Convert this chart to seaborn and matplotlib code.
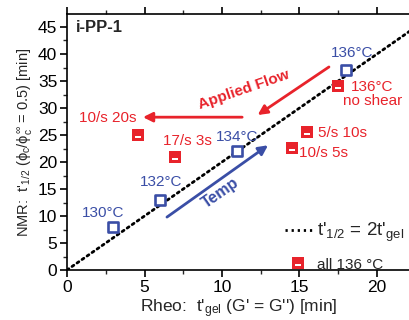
import matplotlib
matplotlib.use("Agg")
import matplotlib.pyplot as plt
import seaborn as sns
import pandas as pd
from matplotlib.lines import Line2D
from matplotlib.path import Path
from matplotlib.ticker import MultipleLocator

# ---- data ----
temp_x = [3, 6, 11, 18]
temp_y = [8, 13, 22, 37]
temp_labels = ["130°C", "132°C", "134°C", "136°C"]

shear_x = [17.5, 15.5, 14.5, 4.6, 7.0]
shear_y = [34, 25.5, 22.6, 25, 21]
shear_labels = ["136°C\nno shear", "5/s 10s", "10/s 5s", "10/s 20s", "17/s 3s"]

fit_x = [0, 24]
fit_y = [0, 48]

BLUE = "#3a4ea6"
RED = "#e8232b"

# filled square with a small white bar (hole) just below its centre
_outer = [(-1, -1), (1, -1), (1, 1), (-1, 1), (-1, -1)]
_inner = [(-0.5, -0.5), (-0.5, -0.12), (0.5, -0.12), (0.5, -0.5), (-0.5, -0.5)]
_codes = [Path.MOVETO] + [Path.LINETO] * 3 + [Path.CLOSEPOLY]
SQ_BAR = Path(_outer + _inner, _codes + _codes)

sns.set_theme(style="ticks")
plt.rcParams["font.family"] = ["Liberation Sans", "DejaVu Sans"]
plt.rcParams["mathtext.fontset"] = "custom"
plt.rcParams["mathtext.rm"] = "Liberation Sans"
plt.rcParams["mathtext.it"] = "Liberation Sans"

fig = plt.figure(figsize=(4.1, 3.2), dpi=100)
ax = fig.add_axes([67/410, 1-270/320, 1-67/410, (270-14)/320])

df_t = pd.DataFrame({"x": temp_x, "y": temp_y})
df_s = pd.DataFrame({"x": shear_x, "y": shear_y})
df_f = pd.DataFrame({"x": fit_x, "y": fit_y})

DOT = (0, (0.8, 1.4))
sns.lineplot(data=df_f, x="x", y="y", ax=ax, color="black", lw=2.0,
             linestyle=DOT, dash_capstyle="round", zorder=2)
sns.scatterplot(data=df_t, x="x", y="y", ax=ax, marker="s", s=42,
                facecolor="white", edgecolor=BLUE, linewidth=1.9, zorder=4)
sns.scatterplot(data=df_s, x="x", y="y", ax=ax, marker=SQ_BAR, s=70,
                color=RED, linewidth=0, zorder=4)

ax.set_xlim(0, (410-67)/15.5)
ax.set_ylim(0, (270-14)/5.4)

fs = 11
# temperature labels
temp_pos = [(2.3, 10.6), (6.1, 16.3), (11.0, 24.7), (18.4, 40.2)]
for (tx, ty), lab in zip(temp_pos, temp_labels):
    ax.text(tx, ty, lab, color=BLUE, fontsize=fs, ha="center", va="center")

# shear labels
shear_pos = [(19.7, 32.6, "center"), (16.2, 25.4, "left"), (15.0, 21.6, "left"),
             (2.6, 28.1, "center"), (7.75, 23.9, "center")]
for (sx, sy, ha), lab in zip(shear_pos, shear_labels):
    ax.text(sx, sy, lab, color=RED, fontsize=fs, ha=ha, va="center",
            linespacing=1.0)

ax.text(0.6, 45, "i-PP-1", fontsize=12, fontweight="bold", ha="left", va="center")

# arrows
ap_red = dict(arrowstyle="-|>", color=RED, lw=2.0, mutation_scale=14,
              shrinkA=0, shrinkB=0)
ax.annotate("", xy=(4.9, 28.3), xytext=(11.3, 28.3), arrowprops=ap_red)
ax.annotate("", xy=(12.3, 28.7), xytext=(16.9, 37.6), arrowprops=ap_red)
ax.text(11.4, 33.3, "Applied Flow", color=RED, fontsize=11, fontweight="bold",
        rotation=19, ha="center", va="center")

ap_blue = dict(arrowstyle="-|>", color=BLUE, lw=2.0, mutation_scale=14,
               shrinkA=0, shrinkB=0)
ax.annotate("", xy=(12.97, 23.1), xytext=(6.45, 9.8), arrowprops=ap_blue)
ax.text(9.9, 14.3, "Temp", color=BLUE, fontsize=11.5, fontweight="bold",
        rotation=35, ha="center", va="center")

# ticks
ax.xaxis.set_major_locator(MultipleLocator(5))
ax.xaxis.set_minor_locator(MultipleLocator(2.5))
ax.yaxis.set_major_locator(MultipleLocator(5))
ax.yaxis.set_minor_locator(MultipleLocator(2.5))
ax.tick_params(axis="both", which="major", labelsize=12.5, length=5, width=1.2,
               direction="out", pad=2, colors="black")
ax.tick_params(axis="both", which="minor", length=3, width=1.0, direction="out")
ax.tick_params(axis="x", which="both", top=True, labeltop=False)
ax.spines["right"].set_visible(False)
for sp in ["left", "bottom", "top"]:
    ax.spines[sp].set_linewidth(1.2)
    ax.spines[sp].set_color("black")

ax.set_xlabel("Rheo:  t'$_{gel}$ (G' = G'') [min]", fontsize=12.5, labelpad=2)
ax.set_ylabel("NMR:  t'$_{1/2}$ ($\\phi_c/\\phi_c^{\\infty}$ = 0.5) [min]",
              fontsize=10.5, labelpad=3)

# legend
h_line = Line2D([], [], color="black", lw=2.0, linestyle=DOT)
h_sq = Line2D([], [], marker=SQ_BAR, markersize=8.5, color=RED,
              markeredgewidth=0, linestyle="none")
leg = ax.legend([h_line, h_sq],
                ["t'$_{1/2}$ = 2t'$_{gel}$", "all 136 °C"],
                loc="lower right", bbox_to_anchor=(1.0, -0.03), frameon=False,
                fontsize=11, handlelength=1.8, handletextpad=0.3,
                labelspacing=0.9, borderaxespad=0.0)
leg.get_texts()[0].set_fontsize(13.5)

fig.savefig("out.png", dpi=100)
